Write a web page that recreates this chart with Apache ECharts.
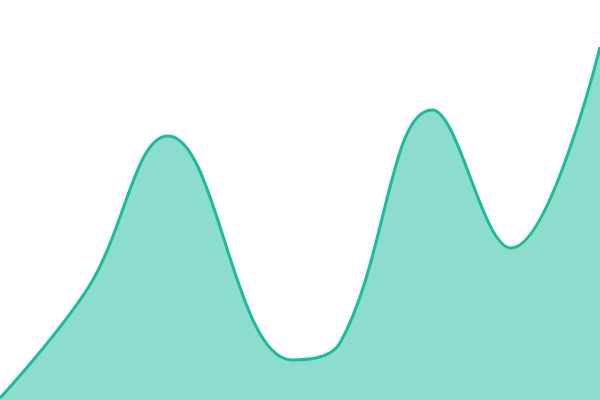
<!DOCTYPE html>
<html>
<head>
<meta charset="utf-8">
<script src="https://cdn.jsdelivr.net/npm/echarts@6/dist/echarts.min.js"></script>
<style>
  html, body { margin: 0; padding: 0; background: #fff; }
  #chart { width: 600px; height: 400px; }
</style>
</head>
<body>
<div id="chart"></div>
<script>
// Données
const xValues = [0, 88, 168, 292, 340, 432, 511, 600];
const yValues = [2, 112, 264, 40, 57, 290, 152, 353];

const points = xValues.map((x, i) => [x, yValues[i]]);

const chart = echarts.init(document.getElementById("chart"));

chart.setOption({
  animation: false,
  grid: { left: 0, right: 0, top: 0, bottom: 0 },
  xAxis: { type: "value", min: 0, max: 600, show: false },
  yAxis: { type: "value", min: 0, max: 400, show: false },
  series: [
    {
      type: "line",
      data: points,
      smooth: 0.4,
      symbol: "none",
      lineStyle: { color: "#1abc9c", width: 3 },
      areaStyle: { color: "#1abc9c", opacity: 0.5 },
    },
  ],
});
</script>
</body>
</html>
